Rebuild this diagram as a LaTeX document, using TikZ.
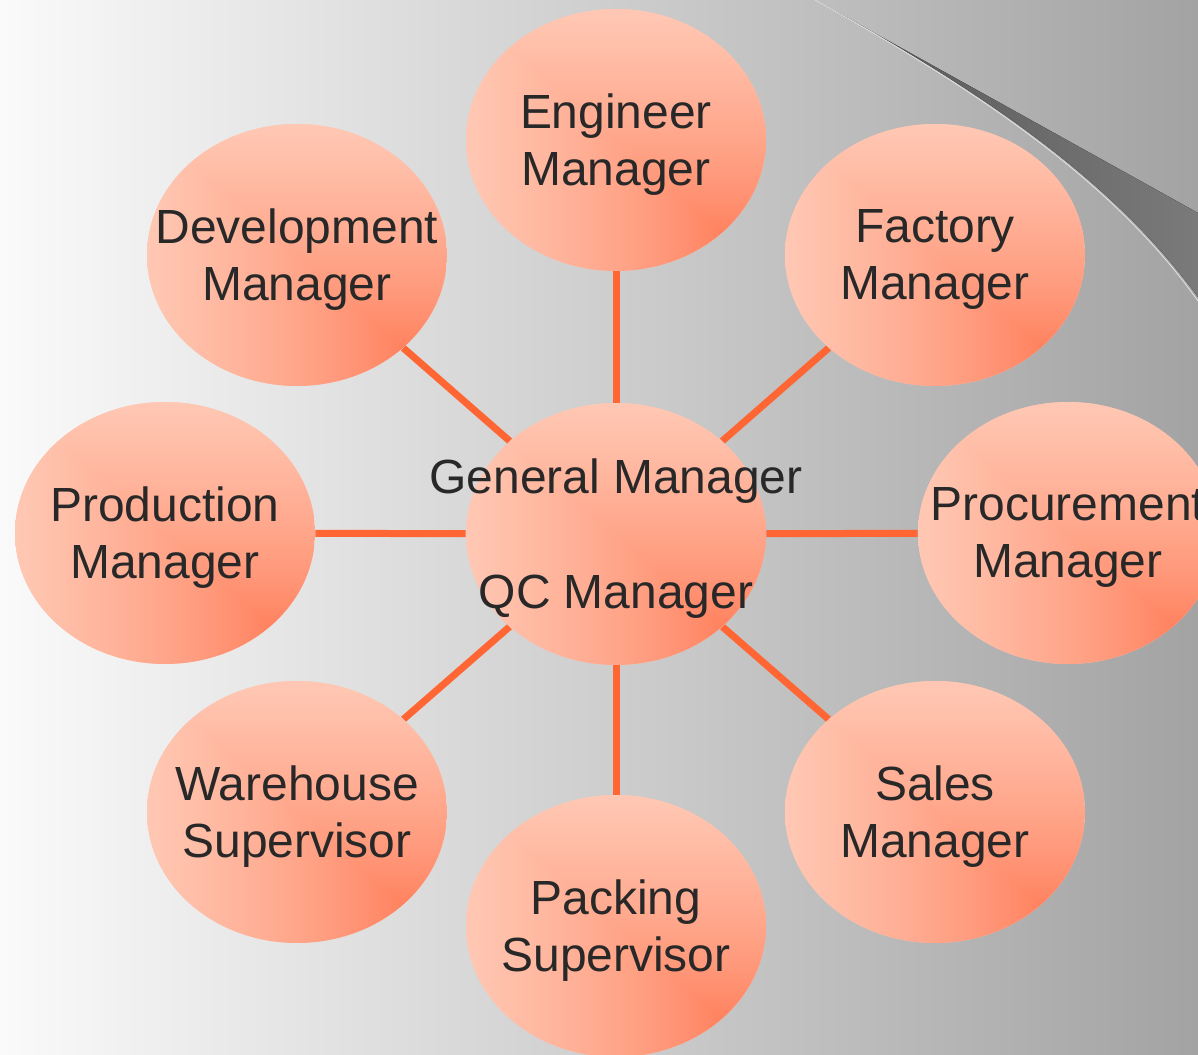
\documentclass[tikz,border=0pt]{standalone}
\usepackage{fontspec}
\setmainfont{Liberation Sans}
\usetikzlibrary{shapes.geometric,calc}
\definecolor{peach}{RGB}{255,196,176}
\definecolor{linkc}{RGB}{255,102,51}
\definecolor{ink}{RGB}{40,40,40}
\definecolor{bgleft}{RGB}{250,250,250}
\definecolor{bgright}{RGB}{163,163,163}
\definecolor{curlA}{RGB}{85,85,85}
\definecolor{curlB}{RGB}{122,122,122}
\pgfdeclarefunctionalshading{cornerfade}{\pgfpoint{-50bp}{-50bp}}{\pgfpoint{50bp}{50bp}}{}{
  25 add 50 div
  exch 25 exch sub 50 div
  2 copy lt {exch} if pop
  dup 0 lt {pop 0} if
  dup 1 gt {pop 1} if
  0.6 exp
  dup 103 mul 97 add 255 div exch 125 mul 55 add 255 div
  1 3 1 roll
}
\pgfdeclarelayer{back}
\pgfdeclarelayer{mid}
\pgfsetlayers{back,mid,main}
\tikzset{
  role/.style={ellipse, minimum width=6cm, minimum height=5.24cm, inner sep=0pt,
    fill=peach,
    path picture={
      \shade[shading=cornerfade]
        (path picture bounding box.south west) rectangle (path picture bounding box.north east);}},
  lbl/.style={align=center, text=ink, yshift=-2.5pt,
    font=\fontsize{27.3pt}{32.7pt}\selectfont},
  linkline/.style={draw=linkc, line width=0.14cm}
}
\begin{document}
\begin{tikzpicture}[x=0.02cm,y=-0.02cm]
\useasboundingbox (0,0) rectangle (1198,1055);
\begin{pgfonlayer}{back}
  \fill[left color=bgleft, right color=bgright] (0,0) rectangle (1198,1055);
  \fill[left color=curlA, right color=curlB] (815,0) -- (1198,213) -- (1198,297)
     .. controls (1120,190) and (1000,100) .. (815,0) -- cycle;
  \draw[white!75!gray, line width=0.5pt] (815,0) .. controls (1000,102) and (1121,193) .. (1198,301);
\end{pgfonlayer}
\begin{scope}
\clip (0,0) rectangle (1198,1055);
\node[role, label={[lbl]center:Engineer\\Manager}] (eng) at (616,140) {};
\node[role, label={[lbl]center:Development\\Manager}] (dev) at (297,255) {};
\node[role, label={[lbl]center:Factory\\Manager}] (fac) at (935,255) {};
\node[role, label={[lbl]center:Production\\Manager}] (pro) at (165,533) {};
\node[role, label={[lbl]center:Procurement\\Manager}] (prc) at (1068,533) {};
\node[role, label={[lbl]center:Warehouse\\Supervisor}] (war) at (297,812) {};
\node[role, label={[lbl]center:Sales\\Manager}] (sal) at (935,812) {};
\node[role, label={[lbl]center:Packing\\Supervisor}] (pac) at (616,926) {};
\node[role, label={[lbl]center:General Manager\\\mbox{}\\QC Manager}] (gm) at (616,534) {};
\end{scope}
\begin{pgfonlayer}{mid}
\begin{scope}
\clip (0,0) rectangle (1198,1055);
\draw[linkline] (gm) -- (eng);
\draw[linkline] (gm) -- (dev);
\draw[linkline] (gm) -- (fac);
\draw[linkline] (gm) -- (pro);
\draw[linkline] (gm) -- (prc);
\draw[linkline] (gm) -- (war);
\draw[linkline] (gm) -- (sal);
\draw[linkline] (gm) -- (pac);
\end{scope}
\end{pgfonlayer}
\end{tikzpicture}
\end{document}
